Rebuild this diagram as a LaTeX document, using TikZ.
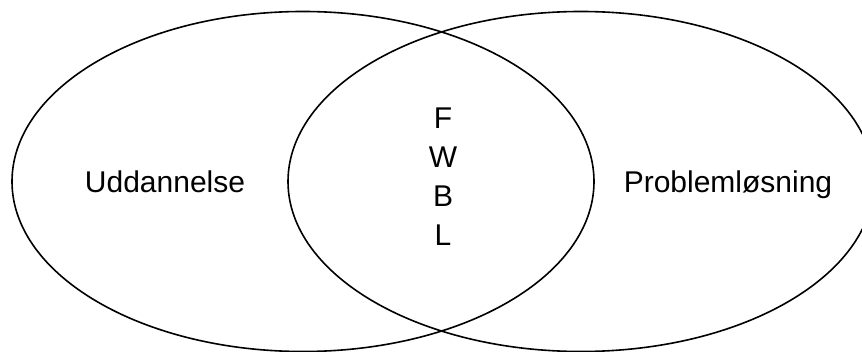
\documentclass[tikz,border=0pt]{standalone}
\usepackage{fontspec}
\setmainfont{Liberation Sans}
\usetikzlibrary{shapes.geometric}
\begin{document}
\begin{tikzpicture}[x=1pt,y=1pt,
  circ/.style={ellipse,draw,line width=1.6pt,inner sep=0pt,minimum height=340pt},
  lbl/.style={font=\fontsize{30}{35}\selectfont,anchor=base,inner sep=0pt}]
\useasboundingbox (0,0) rectangle (862,351);
\begin{scope}
\clip (0,0) rectangle (862,351);
\node[circ,minimum width=582pt] (left) at (303,169.5) {};
\node[circ,minimum width=586pt] (right) at (581,169.5) {};
\end{scope}
\node[lbl] (ud) at (165,158) {Uddannelse};
\node[lbl] (pl) at (728,158) {Problemløsning};
\node[lbl] (f) at (443,222) {F};
\node[lbl] (w) at (443,183) {W};
\node[lbl] (b) at (443,144) {B};
\node[lbl] (l) at (443,105) {L};
\end{tikzpicture}
\end{document}
